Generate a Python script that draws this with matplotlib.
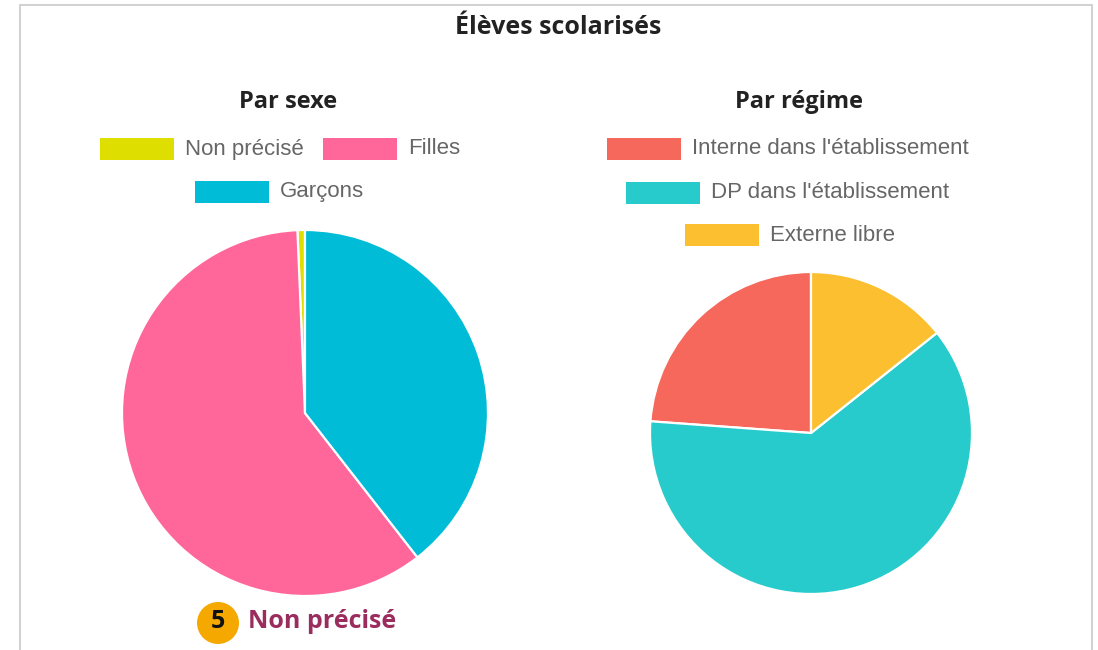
import matplotlib
matplotlib.use("Agg")
import matplotlib.pyplot as plt
from matplotlib.patches import Rectangle, Ellipse

# data
sexe_labels = ["Non précisé", "Filles", "Garçons"]
sexe_values = [5, 452, 298]
sexe_colors = ["#dede00", "#ff6699", "#00bcd6"]

regime_labels = ["Interne dans l'établissement", "DP dans l'établissement", "Externe libre"]
regime_values = [180, 467, 108]
regime_colors = ["#f6685c", "#27cbcb", "#fcbf30"]

badge_value = 5
badge_label = "Non précisé"

W, H = 1098, 650
fig = plt.figure(figsize=(W / 100, H / 100), dpi=100)
fig.patch.set_facecolor("white")


def fx(x):
    return x / W


def fy(y):
    return 1 - y / H


# light frame around the card
fig.patches.append(Rectangle((fx(20), fy(700)), fx(1092) - fx(20), fy(5) - fy(700),
                             transform=fig.transFigure, fill=False,
                             edgecolor="#d2d2d2", linewidth=1.5))

fig.text(fx(558), fy(27), "Élèves scolarisés", ha="center", va="center",
         fontsize=18, fontweight="bold", family="Open Sans", color="#222222")


def draw_pie(cx, cy, r, values, colors):
    ax = fig.add_axes([fx(cx - r), fy(cy + r), 2 * r / W, 2 * r / H])
    ax.pie(values, colors=colors, startangle=90, counterclock=True,
           wedgeprops=dict(edgecolor="white", linewidth=1.6))
    ax.set_xlim(-1, 1)
    ax.set_ylim(-1, 1)
    ax.set_aspect("equal")
    ax.axis("off")


def draw_legend(labels, colors, box_x, row_y):
    for lab, col, bx, by in zip(labels, colors, box_x, row_y):
        fig.patches.append(Rectangle((fx(bx), fy(by + 11)), 74 / W, 22 / H,
                                     transform=fig.transFigure,
                                     facecolor=col, edgecolor="none"))
        fig.text(fx(bx + 85), fy(by), lab, ha="left", va="center",
                 fontsize=16, family="Liberation Sans", color="#666666")


# Par sexe
fig.text(fx(288), fy(102), "Par sexe", ha="center", va="center",
         fontsize=17, fontweight="bold", family="Open Sans", color="#222222")
draw_legend(sexe_labels, sexe_colors, [100, 323, 195], [149, 149, 192])
draw_pie(305, 413, 183, sexe_values, sexe_colors)

# Par régime
fig.text(fx(799), fy(102), "Par régime", ha="center", va="center",
         fontsize=17, fontweight="bold", family="Open Sans", color="#222222")
draw_legend(regime_labels, regime_colors, [607, 626, 685], [149, 193, 235])
draw_pie(811, 433, 161, regime_values, regime_colors)

# badge under the first pie
fig.patches.append(Ellipse((fx(218), fy(623)), 42 / W, 42 / H,
                           transform=fig.transFigure,
                           facecolor="#f5a900", edgecolor="none"))
fig.text(fx(218), fy(622), str(badge_value), ha="center", va="center",
         fontsize=18, fontweight="bold", family="Open Sans", color="#111111")
fig.text(fx(248), fy(621), badge_label, ha="left", va="center",
         fontsize=18, fontweight="bold", family="Open Sans", color="#9b2d5e")

fig.savefig("out.png", dpi=100)
